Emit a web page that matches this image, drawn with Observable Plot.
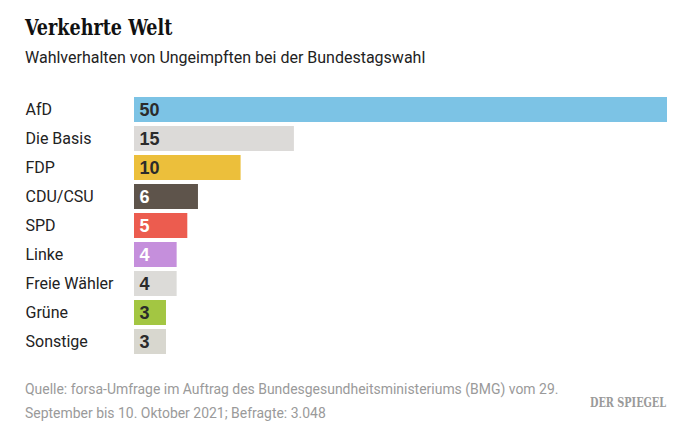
<!DOCTYPE html>
<html>
<head>
<meta charset="utf-8">
<script src="https://cdn.jsdelivr.net/npm/d3@7"></script>
<script src="https://cdn.jsdelivr.net/npm/@observablehq/plot@0.6"></script>
<style>
  html, body { margin: 0; padding: 0; background: #fff; }
  body { width: 690px; height: 437px; position: relative; overflow: hidden; }
  #title { position: absolute; left: 25px; top: 13px; font-family: "DejaVu Serif", serif; font-stretch: condensed; font-weight: bold; font-size: 23px; color: #111; white-space: nowrap; transform: scaleX(0.85); transform-origin: left top; }
  #subtitle { position: absolute; left: 25px; top: 48px; font-family: Roboto, sans-serif; font-size: 16px; color: #222; white-space: nowrap; }
  #chart { position: absolute; left: 0; top: 90px; }
  #caption { position: absolute; left: 25px; top: 377px; font-family: Roboto, sans-serif; font-size: 15px; line-height: 24px; color: #9a9a9a; white-space: nowrap; transform: scaleX(0.93); transform-origin: left top; }
  #logo { position: absolute; left: 590px; top: 396px; font-family: "DejaVu Serif", serif; font-stretch: condensed; font-weight: bold; font-size: 12px; color: #9a9a9a; white-space: nowrap; transform: scaleX(0.9); transform-origin: left top; }
</style>
</head>
<body>
<div id="title">Verkehrte Welt</div>
<div id="subtitle">Wahlverhalten von Ungeimpften bei der Bundestagswahl</div>
<div id="chart"></div>
<div id="caption">Quelle: forsa-Umfrage im Auftrag des Bundesgesundheitsministeriums (BMG) vom 29.<br>September bis 10. Oktober 2021; Befragte: 3.048</div>
<div id="logo">DER SPIEGEL</div>
<script>
const parties = ["AfD", "Die Basis", "FDP", "CDU/CSU", "SPD", "Linke", "Freie Wähler", "Grüne", "Sonstige"];
const values = [50, 15, 10, 6, 5, 4, 4, 3, 3];
const barColors = ["#7cc3e5", "#dcdad8", "#ecbf3b", "#5e544b", "#ec5c4f", "#c58fdc", "#dcdbd8", "#a3c642", "#d8d7cf"];
const labelColors = ["#2b2b2b", "#2b2b2b", "#2b2b2b", "#ffffff", "#ffffff", "#ffffff", "#2b2b2b", "#2b2b2b", "#2b2b2b"];

const data = parties.map((p, i) => ({party: p, value: values[i], fill: barColors[i], label: labelColors[i]}));

const chart = Plot.plot({
  width: 690,
  height: 270,
  marginLeft: 134,
  marginRight: 23,
  marginTop: 5.7,
  marginBottom: 5.7,
  x: {domain: [0, 50], axis: null},
  y: {domain: parties, axis: null, paddingInner: 0.144, paddingOuter: 0},
  color: {type: "identity"},
  style: {background: "transparent"},
  marks: [
    Plot.barX(data, {y: "party", x: "value", fill: "fill"}),
    Plot.text(data, {y: "party", text: "party", frameAnchor: "left", dx: -109, textAnchor: "start", fill: "#222", fontSize: 16, fontFamily: "Roboto, sans-serif"}),
    Plot.text(data, {y: "party", x: 0, text: d => String(d.value), dx: 5, textAnchor: "start", fill: "label", fontSize: 18, fontWeight: "bold", fontFamily: "'Liberation Sans', Arial, sans-serif"})
  ]
});
document.getElementById("chart").appendChild(chart);
</script>
</body>
</html>
